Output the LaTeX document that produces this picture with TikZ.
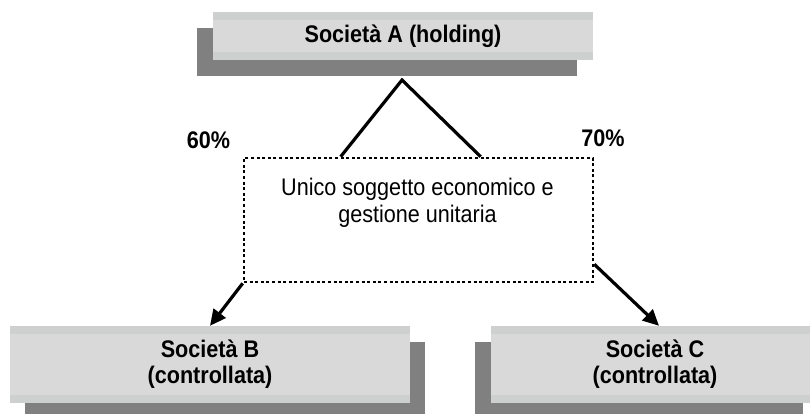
\documentclass[tikz,border=0pt]{standalone}
\usepackage{fontspec}
\setmainfont[FakeStretch=0.9]{Liberation Sans}
\usetikzlibrary{arrows.meta,shadows}
\definecolor{boxgray}{RGB}{217,217,217}
\definecolor{bandgray}{RGB}{206,208,208}
\definecolor{shadegray}{RGB}{128,128,128}
\tikzset{
  firma/.style={fill=boxgray, inner sep=0pt, align=center,
    font=\fontsize{24}{26}\selectfont\bfseries,
    path picture={
      \fill[bandgray] (path picture bounding box.north west) rectangle ([yshift=-8pt]path picture bounding box.north east);
      \fill[bandgray] (path picture bounding box.south west) rectangle ([yshift=8pt]path picture bounding box.south east);}},
  ombra/.style 2 args={drop shadow={shadow xshift=#1, shadow yshift=#2, fill=shadegray, opacity=1}},
  gestione/.style={draw, line width=2.7pt, dash pattern=on 3pt off 2.6pt},
  testo/.style={align=center, inner sep=0pt, font=\fontsize{24}{27}\selectfont},
  quota/.style={anchor=base, inner sep=0pt, font=\fontsize{24}{26}\selectfont\bfseries},
  legame/.style={line width=3.2pt},
  freccia/.style={line width=3.2pt, -{Triangle[length=16pt,width=15pt]}}
}
\begin{document}
\begin{tikzpicture}[x=1pt,y=-1pt]
\useasboundingbox (0,0) rectangle (810,413);
\node[firma, ombra={-16pt}{-16pt}, minimum width=380pt, minimum height=48pt] (socA) at (403,36) {Società A (holding)};
\node[firma, ombra={15pt}{-16pt}, minimum width=400pt, minimum height=77pt] (socB) at (210,364.5) {Società B\\(controllata)};
\node[firma, ombra={-16pt}{-16pt}, minimum width=328pt, minimum height=77pt] (socC) at (655,364.5) {Società C\\(controllata)};
\node[gestione, minimum width=349pt, minimum height=124pt] (unico) at (418.5,220) {};
\node[testo] (unicotxt) at (417.5,203) {Unico soggetto economico e\\gestione unitaria};
\node[quota] (p60) at (208.5,148) {60\%};
\node[quota] (p70) at (603,146) {70\%};
\coordinate (vertice) at (402,80);
\draw[legame] ([xshift=98pt]unico.north west) -- (vertice) -- ([xshift=238pt]unico.north west);
\draw[freccia] (unico.south west) -- (socB.north);
\draw[freccia] ([yshift=19pt]unico.south east) -- ([xshift=4pt]socC.north);
\end{tikzpicture}
\end{document}
